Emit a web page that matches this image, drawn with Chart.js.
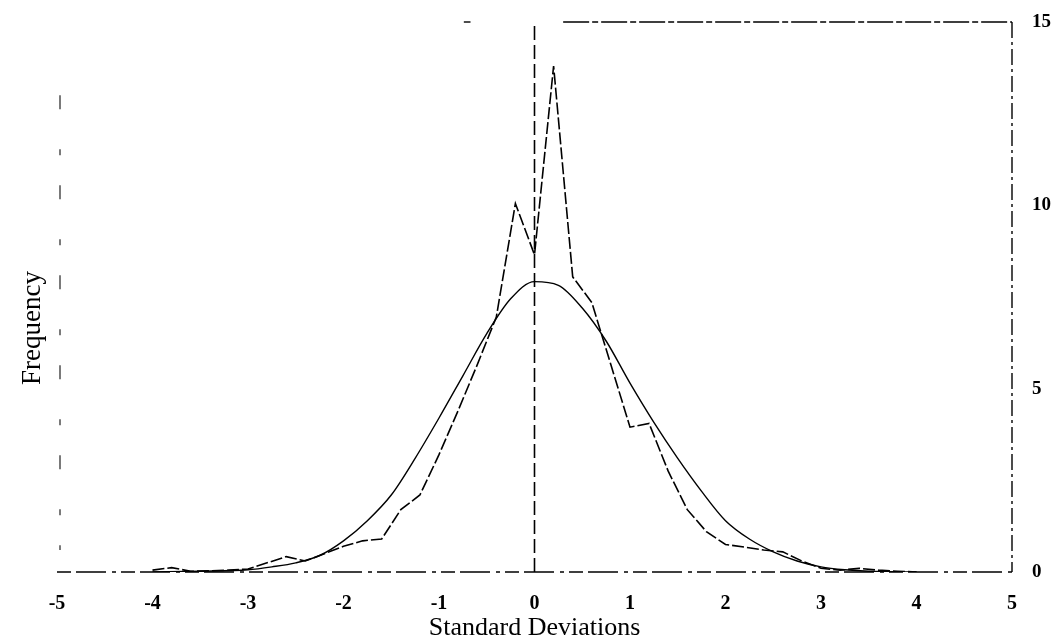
<!DOCTYPE html>
<html>
<head>
<meta charset="utf-8">
<script src="https://cdn.jsdelivr.net/npm/chart.js@4.4.1/dist/chart.umd.min.js"></script>
<style>
    html, body { margin: 0; padding: 0; background: #fff; }
    #wrap { width: 1060px; height: 643px; }
</style>
</head>
<body>
<div id="wrap"><canvas id="chartDev"></canvas></div>
<script>
/* Frequency of returns vs. standard deviations, with fitted normal curve */

// Axis ticks
const xTicks = [-5, -4, -3, -2, -1, 0, 1, 2, 3, 4, 5];
const yTicks = [0, 5, 10, 15];

// Observed frequencies (bins of 0.2 sd)
const empX = [-4.0, -3.8, -3.6, -3.4, -3.2, -3.0, -2.8, -2.6, -2.4, -2.2,
              -2.0, -1.8, -1.6, -1.4, -1.2, -1.0, -0.8, -0.6, -0.4, -0.2,
               0.0,  0.2,  0.4,  0.6,  0.8,  1.0,  1.2,  1.4,  1.6,  1.8,
               2.0,  2.2,  2.4,  2.6,  2.8,  3.0,  3.2,  3.4,  3.6,  3.8, 4.0];
const empY = [0.05, 0.12, 0.02, 0.03, 0.05, 0.08, 0.25, 0.42, 0.30, 0.50,
              0.70, 0.85, 0.90, 1.70, 2.10, 3.20, 4.40, 5.65, 6.95, 10.05,
              8.65, 13.8, 8.05, 7.35, 5.65, 3.95, 4.05, 2.75, 1.70, 1.10,
              0.75, 0.68, 0.60, 0.55, 0.30, 0.10, 0.05, 0.10, 0.05, 0.02, 0.0];

// Normal curve
const normX = [-4, -3.5, -3, -2.75, -2.5, -2.25, -2, -1.75, -1.5, -1.25,
               -1, -0.75, -0.5, -0.25, 0, 0.25, 0.5, 0.75, 1, 1.25,
               1.5, 1.75, 2, 2.25, 2.5, 2.75, 3, 3.25, 3.5, 4];
const normY = [0.0, 0.02, 0.06, 0.14, 0.25, 0.45, 0.85, 1.4, 2.1, 3.1,
               4.2, 5.35, 6.5, 7.45, 7.92, 7.82, 7.2, 6.3, 5.15, 4.08,
               3.1, 2.2, 1.4, 0.9, 0.55, 0.3, 0.14, 0.06, 0.02, 0.0];

// Mean marker (vertical line at 0)
const meanX = [0, 0];
const meanY = [0, 15];

const SERIF = '"Liberation Serif", "DejaVu Serif", serif';

const pts = (xs, ys) => xs.map((x, i) => ({ x: x, y: ys[i] }));

// Dashed frame round the plot, drawn by hand since border.dash stays solid
const frame = {
    id: 'frame',
    afterDraw(chart) {
        const ctx = chart.ctx;
        const xs = chart.scales.x;
        const ys = chart.scales.yR;
        const x0 = xs.getPixelForValue(-5), x1 = xs.getPixelForValue(5);
        const y0 = ys.getPixelForValue(0), y1 = ys.getPixelForValue(15);
        const seg = (ax, ay, bx, by, dash, w, col) => {
            ctx.save();
            ctx.strokeStyle = col || '#000';
            ctx.lineWidth = w || 1.4;
            ctx.setLineDash(dash || []);
            ctx.beginPath();
            ctx.moveTo(ax, ay);
            ctx.lineTo(bx, by);
            ctx.stroke();
            ctx.restore();
        };
        // top
        seg(xs.getPixelForValue(0.3), y1, x1, y1, [26, 3, 6, 3], 1.4);
        seg(xs.getPixelForValue(-0.74), y1, xs.getPixelForValue(-0.67), y1, [], 1.4);
        // bottom
        seg(x0, y0, x1, y0, [14, 5, 30, 6, 4, 5], 1.4);
        // right
        seg(x1, y1, x1, y0, [16, 4, 3, 4], 1.4);
        // left (faint, broken)
        seg(x0 + 3, ys.getPixelForValue(13), x0 + 3, ys.getPixelForValue(0.6), [14, 40, 6, 30], 1.2, '#222');
        // "Frequency" label
        ctx.save();
        ctx.translate(33, 328);
        ctx.rotate(-Math.PI / 2);
        ctx.fillStyle = '#000';
        ctx.font = '27px ' + SERIF;
        ctx.textAlign = 'center';
        ctx.textBaseline = 'middle';
        ctx.fillText('Frequency', 0, 0);
        ctx.restore();
    }
};

let charts = {};

function initCharts() {
    charts.dev = new Chart(document.getElementById('chartDev'), {
        type: 'line',
        data: {
            datasets: [
                {
                    label: 'Observed',
                    data: pts(empX, empY),
                    yAxisID: 'yR',
                    borderColor: '#000',
                    borderWidth: 1.6,
                    borderDash: [12, 3],
                    pointRadius: 0,
                    tension: 0
                },
                {
                    label: 'Normal',
                    data: pts(normX, normY),
                    yAxisID: 'yR',
                    borderColor: '#000',
                    borderWidth: 1.4,
                    pointRadius: 0,
                    cubicInterpolationMode: 'monotone'
                },
                {
                    label: 'Mean',
                    data: pts(meanX, meanY),
                    yAxisID: 'yR',
                    borderColor: '#000',
                    borderWidth: 1.6,
                    borderDash: [14, 5],
                    pointRadius: 0
                }
            ]
        },
        options: {
            responsive: true,
            maintainAspectRatio: false,
            animation: false,
            layout: { padding: { top: 0, right: 0, left: 0, bottom: 0 } },
            plugins: {
                legend: { display: false },
                tooltip: { enabled: false }
            },
            scales: {
                x: {
                    type: 'linear',
                    position: 'bottom',
                    min: -5,
                    max: 5,
                    afterBuildTicks: s => { s.ticks = xTicks.map(v => ({ value: v })); },
                    afterFit: s => { s.height = 71; },
                    grid: { display: false, drawTicks: false },
                    border: { display: false },
                    ticks: {
                        color: '#000',
                        padding: 20,
                        font: { family: SERIF, size: 20, weight: 'bold' }
                    },
                    title: {
                        display: true,
                        text: 'Standard Deviations',
                        color: '#000',
                        padding: { top: 0, bottom: -1 },
                        font: { family: SERIF, size: 26 }
                    }
                },
                yR: {
                    type: 'linear',
                    position: 'right',
                    min: 0,
                    max: 15,
                    afterBuildTicks: s => { s.ticks = yTicks.map(v => ({ value: v })); },
                    afterFit: s => { s.width = 48; s.paddingTop = 22; s.paddingBottom = 0; },
                    grid: { display: false, drawTicks: false },
                    border: { display: false },
                    ticks: {
                        color: '#000',
                        padding: 20,
                        font: { family: SERIF, size: 19, weight: 'bold' }
                    }
                },
                yL: {
                    type: 'linear',
                    position: 'left',
                    min: 0,
                    max: 15,
                    afterFit: s => { s.width = 57; s.paddingTop = 0; s.paddingBottom = 0; },
                    grid: { display: false, drawTicks: false },
                    border: { display: false },
                    ticks: { display: false }
                }
            }
        },
        plugins: [frame]
    });
}

initCharts();
</script>
</body>
</html>
